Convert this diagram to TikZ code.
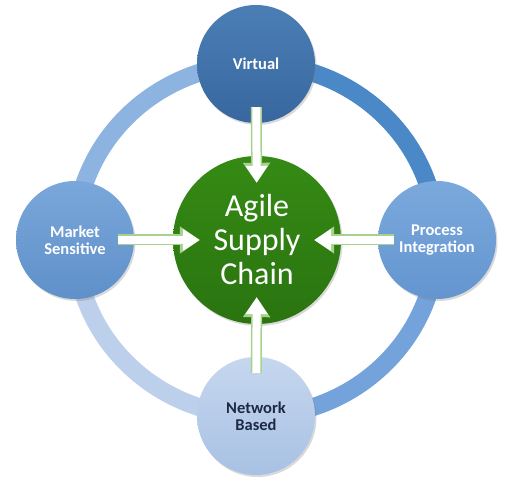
\documentclass[tikz,border=0pt]{standalone}
\usepackage{fontspec}
\setmainfont{Carlito}
\usetikzlibrary{arrows.meta,shadows}
\definecolor{ringTL}{HTML}{8DB3E0}
\definecolor{ringBL}{HTML}{BCCFEB}
\definecolor{ringBR}{HTML}{73A3DA}
\definecolor{ringTR}{HTML}{4A88C8}
\definecolor{virtTop}{HTML}{4C7EB6}
\definecolor{virtBot}{HTML}{37679E}
\definecolor{markTop}{HTML}{7AA7DB}
\definecolor{markBot}{HTML}{5F90C9}
\definecolor{procTop}{HTML}{7BA9DD}
\definecolor{procBot}{HTML}{6495CF}
\definecolor{netTop}{HTML}{C6D7EF}
\definecolor{netBot}{HTML}{A8C1E3}
\definecolor{agileTop}{HTML}{358A14}
\definecolor{agileBot}{HTML}{2A7410}
\definecolor{glow}{HTML}{A9D18E}
\definecolor{navy}{HTML}{1C2A44}
\tikzset{
  ring/.style={line width=18pt},
  pillar/.style={circle,minimum size=118pt,inner sep=0pt,align=center,
    text=white,font=\fontsize{16.5}{17}\selectfont\bfseries,
    drop shadow={opacity=.3,shadow xshift=1.5pt,shadow yshift=-2pt}},
  core/.style={circle,minimum size=168pt,inner sep=0pt,align=center,
    text=white,font=\fontsize{32}{34}\selectfont,
    top color=agileTop,bottom color=agileBot,
    drop shadow={opacity=.3,shadow xshift=1.5pt,shadow yshift=-2pt}},
  feed/.style={line width=8pt,white,-{Triangle[width=21pt,length=17pt]},
    shorten <=-16pt,shorten >=-27pt,
    preaction={draw,glow,line width=11pt,-{Triangle[width=26pt,length=20pt]}}}
}
\begin{document}
\begin{tikzpicture}[x=1pt,y=1pt]
  \useasboundingbox (0,0) rectangle (514,486);

  % ring under the four pillars
  \coordinate (virtualpt) at (256,422);
  \coordinate (marketpt)  at (75,246);
  \coordinate (networkpt) at (256,70);
  \coordinate (processpt) at (437,246);
  \foreach \from/\col/\a in {virtualpt/ringTL/90,marketpt/ringBL/180,networkpt/ringBR/270,processpt/ringTR/0}
    \draw [ring,color=\col] (\from) arc [start angle=\a,delta angle=90,x radius=181,y radius=176];

  \node (virtual) [pillar,top color=virtTop,bottom color=virtBot] at (virtualpt) {Virtual};
  \node (market)  [pillar,top color=markTop,bottom color=markBot] at (marketpt)  {Market\\Sensitive};
  \node (process) [pillar,top color=procTop,bottom color=procBot] at (processpt) {Process\\Integration};
  \node (network) [pillar,top color=netTop,bottom color=netBot,text=navy] at (networkpt) {Network\\Based};
  \node (agile)   [core] at (257,246) {Agile\\Supply\\Chain};

  \foreach \from in {virtual,market,process,network}
    \draw [feed] (\from) -- (agile);
\end{tikzpicture}
\end{document}
